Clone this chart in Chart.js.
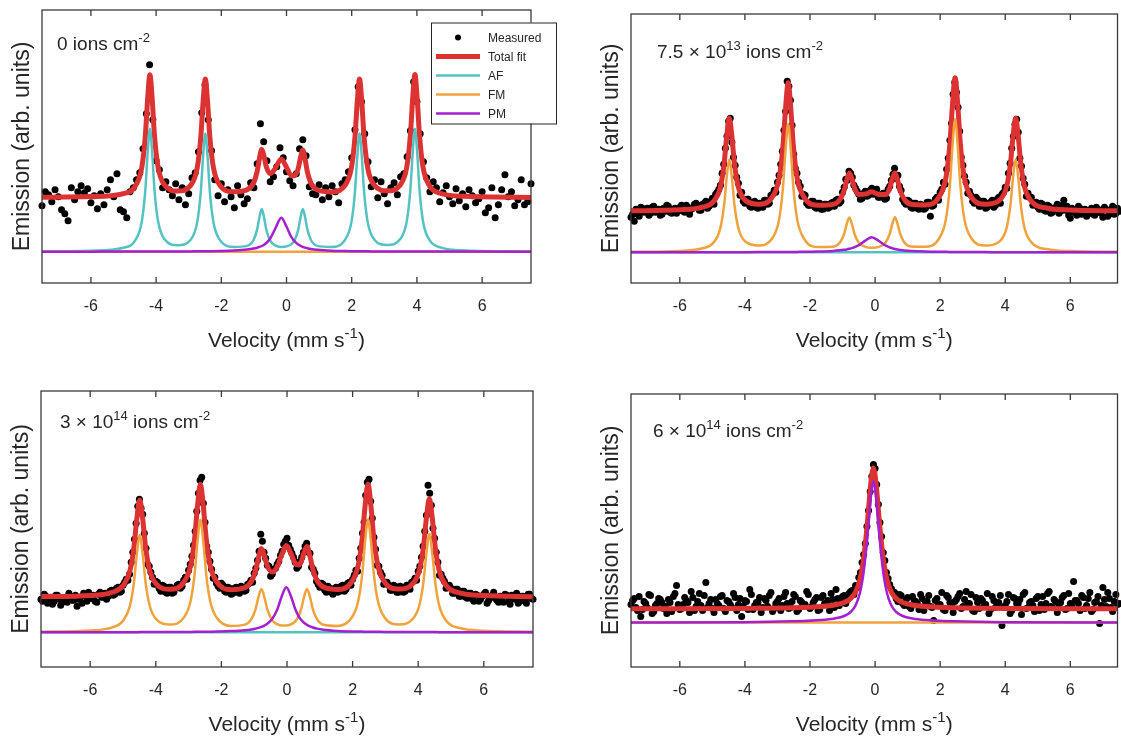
<!DOCTYPE html>
<html>
<head>
<meta charset="utf-8">
<script src="https://cdn.jsdelivr.net/npm/chart.js@4.4.1/dist/chart.umd.min.js"></script>
<style>
  body { margin: 0; background: #fff; width: 1121px; height: 740px; overflow: hidden; position: relative; }
  canvas { position: absolute; }
</style>
</head>
<body>
<canvas id="tl" width="575" height="370" style="left:0;top:0"></canvas>
<canvas id="tr" width="541" height="370" style="left:580px;top:0"></canvas>
<canvas id="bl" width="575" height="370" style="left:0;top:370px"></canvas>
<canvas id="br" width="541" height="370" style="left:580px;top:370px"></canvas>
<script>
// ---- data (velocity in mm/s, emission in arb. units) ----
const channels = [-7.5,-7.4,-7.3,-7.2,-7.1,-7.0,-6.9,-6.8,-6.7,-6.6,-6.5,-6.4,-6.3,-6.2,-6.1,-6.0,-5.9,-5.8,-5.7,-5.6,
  -5.5,-5.4,-5.3,-5.2,-5.1,-5.0,-4.9,-4.8,-4.7,-4.6,-4.5,-4.4,-4.3,-4.2,-4.1,-4.0,-3.9,-3.8,-3.7,-3.6,
  -3.5,-3.4,-3.3,-3.2,-3.1,-3.0,-2.9,-2.8,-2.7,-2.6,-2.5,-2.4,-2.3,-2.2,-2.1,-2.0,-1.9,-1.8,-1.7,-1.6,
  -1.5,-1.4,-1.3,-1.2,-1.1,-1.0,-0.9,-0.8,-0.7,-0.6,-0.5,-0.4,-0.3,-0.2,-0.1,0.0,0.1,0.2,0.3,0.4,
  0.5,0.6,0.7,0.8,0.9,1.0,1.1,1.2,1.3,1.4,1.5,1.6,1.7,1.8,1.9,2.0,2.1,2.2,2.3,2.4,
  2.5,2.6,2.7,2.8,2.9,3.0,3.1,3.2,3.3,3.4,3.5,3.6,3.7,3.8,3.9,4.0,4.1,4.2,4.3,4.4,
  4.5,4.6,4.7,4.8,4.9,5.0,5.1,5.2,5.3,5.4,5.5,5.6,5.7,5.8,5.9,6.0,6.1,6.2,6.3,6.4,
  6.5,6.6,6.7,6.8,6.9,7.0,7.1,7.2,7.3,7.4,7.5];
// in-between channels, used by the denser spectra
const halfChannels = [-7.45,-7.35,-7.25,-7.15,-7.05,-6.95,-6.85,-6.75,-6.65,-6.55,-6.45,-6.35,-6.25,-6.15,-6.05,-5.95,-5.85,-5.75,-5.65,-5.55,
  -5.45,-5.35,-5.25,-5.15,-5.05,-4.95,-4.85,-4.75,-4.65,-4.55,-4.45,-4.35,-4.25,-4.15,-4.05,-3.95,-3.85,-3.75,-3.65,-3.55,
  -3.45,-3.35,-3.25,-3.15,-3.05,-2.95,-2.85,-2.75,-2.65,-2.55,-2.45,-2.35,-2.25,-2.15,-2.05,-1.95,-1.85,-1.75,-1.65,-1.55,
  -1.45,-1.35,-1.25,-1.15,-1.05,-0.95,-0.85,-0.75,-0.65,-0.55,-0.45,-0.35,-0.25,-0.15,-0.05,0.05,0.15,0.25,0.35,0.45,
  0.55,0.65,0.75,0.85,0.95,1.05,1.15,1.25,1.35,1.45,1.55,1.65,1.75,1.85,1.95,2.05,2.15,2.25,2.35,2.45,
  2.55,2.65,2.75,2.85,2.95,3.05,3.15,3.25,3.35,3.45,3.55,3.65,3.75,3.85,3.95,4.05,4.15,4.25,4.35,4.45,
  4.55,4.65,4.75,4.85,4.95,5.05,5.15,5.25,5.35,5.45,5.55,5.65,5.75,5.85,5.95,6.05,6.15,6.25,6.35,6.45,
  6.55,6.65,6.75,6.85,6.95,7.05,7.15,7.25,7.35,7.45];
const xTicks = [-6, -4, -2, 0, 2, 4, 6];
const flatV = [-7.55, 7.55];

// panel 1: 0 ions cm-2
const p1Counts = [46,60,57,50,62,55,42,38,31,64, 52,60,66,59,63,49,56,43,58,47,
  62,72,55,78,42,40,34,60,64,72, 79,103,138,187,132,91,82,64,70,62,
  56,68,52,64,47,58,74,79,100,139, 167,132,101,72,56,68,50,62,55,44,
  66,57,48,53,69,64,88,128,110,91, 70,75,85,104,94,80,71,66,78,103,
  112,96,65,58,57,67,52,64,55,66, 60,49,68,72,80,94,122,165,150,118,
  90,65,72,54,70,58,48,64,69,57, 75,78,95,121,170,150,118,90,74,60,
  70,64,50,59,66,55,48,63,51,58, 45,62,56,49,53,60,39,44,64,34,
  47,62,77,55,60,46,52,72,47,50, 68];
const p1V = [-7.55,-6.0,-5.0,-4.64,-4.44,-4.33,-4.26,-4.19,-4.12,-4.05,-3.94,-3.74,-3.34,-2.94,-2.74,-2.63,-2.56,-2.49,-2.42,-2.35,
  -2.24,-2.04,-1.6,-1.21,-1.01,-0.9,-0.83,-0.76,-0.69,-0.62,-0.5,-0.35,-0.16,0.0,0.14,0.25,0.36,0.43,0.5,0.57,
  0.64,0.75,0.95,1.37,1.79,1.99,2.1,2.17,2.24,2.31,2.38,2.49,2.69,3.09,3.49,3.69,3.8,3.87,3.94,4.01,
  4.08,4.19,4.39,4.74,5.5,7.55];
const p1Fit = [54.4,55.1,58.1,65.5,84.0,116.0,152.5,177.0,152.8,116.2,84.6,66.6,60.7,66.3,83.7,114.1,149.1,172.7,149.2,114.1,
  83.8,66.3,59.9,61.9,68.8,80.3,93.3,102.4,95.5,84.9,78.2,83.0,92.8,84.5,76.5,75.9,83.3,94.2,101.7,92.7,
  79.8,68.5,61.7,59.8,66.2,83.8,114.3,149.5,172.8,149.4,114.4,84.0,66.6,60.9,66.8,84.8,116.4,152.9,177.2,152.7,
  116.0,84.2,65.6,58.2,55.4,54.3];
const p1AF = [0.35,1.0,4.0,11.4,29.9,61.8,98.4,122.9,98.6,62.0,30.4,12.4,6.5,12.0,29.3,59.7,94.7,118.2,94.8,59.6,
  29.2,11.6,4.7,5.8,11.7,22.3,34.5,42.7,34.5,22.2,11.0,6.3,4.8,5.3,7.3,11.6,22.1,34.3,42.8,34.6,
  22.3,11.7,5.8,4.7,11.6,29.3,59.8,95.0,118.4,95.0,60.0,29.6,12.3,6.7,12.6,30.6,62.2,98.7,123.0,98.5,
  61.9,30.0,11.5,4.1,1.3,0.3];
const p1PM = [0.05,0.07,0.1,0.12,0.13,0.14,0.14,0.14,0.15,0.16,0.17,0.19,0.24,0.32,0.37,0.4,0.43,0.45,0.48,0.51,
  0.56,0.69,1.15,2.1,3.1,4.0,4.75,5.7,7.0,8.7,13.2,22.7,34.0,25.2,15.2,10.3,7.2,5.9,4.9,4.1,
  3.5,2.75,1.9,1.03,0.64,0.53,0.5,0.48,0.43,0.4,0.38,0.35,0.3,0.23,0.2,0.18,0.17,0.16,0.16,0.15,
  0.14,0.13,0.12,0.1,0.08,0.04];
const p1FM = [0, 0];
const p1Label = [['0 ions cm', false], ['-2', true]];

// panel 2: 7.5 x 10^13 ions cm-2
const p2Counts = [35,31,38,45,40,44,39,46,42,37, 44,47,40,43,39,45,41,47,38,44,
  49,42,48,51,46,54,58,63,79,104, 131,110,87,69,60,49,53,45,51,44,
  47,52,48,57,62,70,88,122,171,152, 98,79,66,58,49,47,51,44,49,43,
  48,45,50,52,49,60,73,81,75,64, 58,54,61,57,64,60,55,58,53,63,
  72,84,77,62,50,52,45,49,44,48, 43,50,36,47,55,60,70,83,112,158,
  160,121,87,70,61,51,55,46,51,44, 49,52,47,55,58,65,79,104,128,120,
  86,68,59,55,50,45,49,42,47,39, 44,48,41,52,46,34,40,37,44,39,
  36,42,38,45,40,35,43,38,46,39, 41];
const p2Counts2 = [38,43,36,44,41,37,45,40,43,38, 41,46,39,44,42,47,40,45,43,48,
  47,42,49,44,51,48,60,67,88,116, 134,95,75,57,51,53,46,50,45,49,
  45,52,49,58,60,77,101,141,166,127, 84,70,56,57,47,51,45,49,43,48,
  44,49,46,53,51,65,72,79,67,61, 53,59,56,62,58,63,55,59,54,66,
  78,74,66,53,48,51,44,49,43,47, 44,50,46,53,52,63,68,94,129,170,
  145,95,76,59,57,49,53,46,51,45, 50,45,53,49,60,64,89,116,133,94,
  74,56,55,47,50,43,48,41,46,40, 45,39,47,42,37,44,40,46,38,43,
  40,44,37,43,39,45,36,42,38,44];
const p2V = [-7.55,-6.0,-5.3,-4.98,-4.76,-4.64,-4.56,-4.48,-4.4,-4.32,-4.2,-3.98,-3.575,-3.17,-2.95,-2.83,-2.75,-2.67,-2.59,-2.51,
  -2.39,-2.17,-1.73,-1.29,-1.07,-0.95,-0.87,-0.79,-0.71,-0.63,-0.51,-0.3,-0.1,0.11,0.33,0.45,0.53,0.61,0.69,0.77,
  0.89,1.11,1.535,1.96,2.18,2.3,2.38,2.46,2.54,2.62,2.74,2.96,3.39,3.82,4.04,4.16,4.24,4.32,4.4,4.48,
  4.6,4.82,5.3,6.0,7.55];
const p2Fit = [41.5,42.5,45.1,50.3,64.5,88,115.7,134.2,115.9,88.4,65.2,51.8,48.1,54.7,73.9,106,144.1,169.5,144.1,106,
  73.8,54.5,47,47.9,53.2,62,72.2,79.4,73.4,64.4,57.9,58.2,60.5,57.9,57.7,64.3,73.4,79.3,72.3,62,
  53.3,48,47.3,55,75,108.6,148.2,174.5,148.1,108.6,75.2,55.2,48,51.9,65.3,88.6,116,134.3,115.8,88.1,
  64.6,50.5,44.1,42.3,41.4];
const p2FM = [0.45,1.4,4.0,9.2,23.4,46.9,74.6,93.1,74.8,47.3,24.1,10.6,6.9,13.5,32.6,64.8,102.8,128.2,102.8,64.6,
  32.4,13.0,5.25,5.5,10.2,18.5,28.3,34.9,28.2,18.3,10.0,5.5,4.5,5.35,10.1,18.5,28.4,35.0,28.5,18.6,
  10.4,5.7,5.5,13.5,33.6,67.2,106.8,133.2,106.8,67.3,33.9,14.0,6.8,10.7,24.2,47.5,74.9,93.2,74.7,47.0,
  23.5,9.4,3.0,1.2,0.4];
const p2PM = [0.04,0.06,0.08,0.09,0.09,0.1,0.1,0.1,0.11,0.11,0.13,0.15,0.18,0.23,0.25,0.27,0.28,0.32,0.33,0.35,
  0.4,0.49,0.77,1.39,2.0,2.5,2.9,3.5,4.2,5.1,6.9,11.7,15,11.5,6.6,4.85,4.0,3.3,2.8,2.4,
  1.9,1.35,0.77,0.49,0.43,0.4,0.38,0.32,0.31,0.3,0.26,0.23,0.18,0.15,0.13,0.12,0.12,0.12,0.11,0.11,
  0.1,0.09,0.08,0.06,0.04];
const p2AF = [0, 0];
const p2Label = [['7.5 \u00d7 10', false], ['13', true], [' ions cm', false], ['-2', true]];

// panel 3: 3 x 10^14 ions cm-2
const p3Counts = [33,38,29,35,31,37,27,34,30,36, 32,26,35,39,31,34,37,30,40,35,
  33,41,37,44,40,47,53,58,80,109, 133,118,84,66,55,51,44,47,40,45,
  39,44,48,46,55,62,76,101,139,155, 110,80,63,55,46,49,41,45,38,44,
  40,46,41,48,52,59,72,98,80,67, 56,63,68,77,88,94,83,75,64,71,
  80,89,79,63,51,45,48,40,44,38, 45,41,47,43,50,53,62,74,99,137,
  153,114,83,66,57,50,47,42,46,40, 45,41,47,50,54,61,75,101,147,127,
  94,70,58,51,46,44,39,43,36,41, 34,39,31,37,33,38,29,35,40,32,
  36,30,37,28,34,39,31,36,29,38, 33];
const p3Counts2 = [31,36,34,28,37,33,30,35,39,32, 37,33,29,36,40,34,31,38,35,39,
  36,42,38,45,41,50,52,70,93,126, 124,99,68,60,48,50,41,46,39,45,
  40,47,44,52,53,68,87,121,152,129, 86,71,54,49,44,47,40,44,39,45,
  39,45,42,49,50,64,81,91,74,66, 58,64,71,81,91,87,79,70,66,75,
  86,80,65,59,48,49,42,46,40,44, 40,46,41,49,47,57,61,84,110,150,
  131,95,67,60,48,50,42,47,40,46, 40,47,43,51,52,66,86,117,139,104,
  80,57,54,44,47,39,43,36,41,35, 39,33,38,31,36,40,32,37,34,30,
  35,38,31,37,33,29,36,32,38,34];
const p3V = [-7.55,-6.0,-5.3,-4.99,-4.79,-4.67,-4.58,-4.49,-4.4,-4.31,-4.19,-3.99,-3.565,-3.14,-2.94,-2.82,-2.73,-2.64,-2.55,-2.46,
  -2.34,-2.14,-1.71,-1.28,-1.08,-0.96,-0.87,-0.78,-0.69,-0.6,-0.45,-0.3,-0.16,-0.02,0.12,0.26,0.36,0.43,0.52,0.61,
  0.7,0.79,0.91,1.11,1.54,1.97,2.17,2.29,2.38,2.47,2.56,2.65,2.77,2.97,3.405,3.84,4.04,4.16,4.25,4.34,
  4.43,4.52,4.64,4.84,5.3,6.0,7.55];
const p3Fit = [35.7,36.9,40.3,47,61.5,84.2,113.1,132.4,113.4,84.7,62.3,48.4,43.1,50.3,66.5,92.5,125.8,148.1,125.8,92.6,
  66.5,50.3,42.6,44.8,51.3,61.6,74.5,83.7,76.8,66.4,60.3,65.6,77.7,86.7,78.9,68.7,67.3,70.6,79.8,85.8,
  76.2,62.8,52.2,45.2,42.8,50.4,66.8,92.8,126,148.3,126,92.8,66.9,50.5,43.2,48.7,62.7,85.3,114.2,133.5,
  114,84.9,62,47.3,39.1,36.7,35.6];
const p3FM = [0.6,1.8,5.2,11.8,26.3,49,77.9,97.2,78.2,49.5,27.1,13.2,7.8,14.9,31.1,57.1,90.3,112.6,90.3,57,
  30.9,14.5,6.4,7.7,13.4,22.9,35.1,43.3,35.1,22.9,11.9,8.1,6.7,6.7,7.9,11.2,16.5,23,35.3,43.4,
  35.3,23,13.5,7.6,6.4,14.5,31,57.1,90.4,112.7,90.5,57.3,31.4,15.1,7.9,13.5,27.5,50.1,79,98.3,
  78.8,49.7,26.8,12.1,4.0,1.6,0.5];
const p3PM = [0.06,0.1,0.13,0.14,0.15,0.16,0.17,0.18,0.19,0.2,0.2,0.22,0.28,0.36,0.4,0.43,0.45,0.51,0.53,0.57,
  0.64,0.77,1.2,2.1,2.9,3.7,4.4,5.4,6.7,8.5,13.4,22.5,36,45,36,22.5,15.8,12.6,9.5,7.4,
  5.9,4.8,3.7,2.6,1.4,0.87,0.75,0.68,0.63,0.56,0.53,0.5,0.46,0.39,0.3,0.24,0.22,0.21,0.2,0.19,
  0.18,0.18,0.17,0.16,0.13,0.1,0.06];
const p3AF = [0, 0];
const p3Label = [['3 \u00d7 10', false], ['14', true], [' ions cm', false], ['-2', true]];

// panel 4: 6 x 10^14 ions cm-2
const p4Counts = [18,24,12,6,21,15,27,11,19,23, 14,9,20,26,37,13,18,22,10,25,
  16,29,12,40,19,14,23,17,27,11, 21,15,25,18,6,22,13,28,17,20,
  10,24,16,30,14,21,12,26,19,15, 28,11,22,17,31,14,20,25,13,27,
  18,12,23,33,17,26,19,29,32,37, 45,60,79,112,146,154,118,86,62,44,
  34,30,21,27,17,25,14,22,19,28, 12,21,16,2,24,18,13,27,20,10,
  23,29,16,31,19,12,25,14,22,18, 9,26,15,20,-3,17,28,12,24,19,
  8,30,15,21,11,26,18,13,29,16, 23,10,20,27,14,19,41,22,12,25,
  17,30,13,21,-1,35,16,24,11,28, 19];
const p4Counts2 = [22,15,26,13,19,28,9,17,24,20, 16,23,11,29,18,14,25,20,31,12,
  21,17,27,15,23,10,19,26,14,22, 18,29,12,24,16,21,33,13,20,25,
  15,22,27,11,19,24,17,30,14,21, 26,13,20,18,28,16,23,12,25,19,
  22,29,15,24,20,27,23,31,28,35, 50,68,96,131,158,138,100,70,50,38,
  31,24,28,19,23,16,26,21,13,24, 20,27,15,22,18,30,12,25,17,21,
  26,14,23,19,28,11,20,24,16,29, 13,22,18,27,15,21,9,25,19,23,
  28,14,20,17,24,12,26,19,31,15, 21,18,25,13,29,16,22,19,27,14,
  24,11,20,26,17,23,30,15,21,18];
const p4V = [-7.55,-4.05,-2.55,-1.65,-1.25,-0.95,-0.75,-0.6,-0.47,-0.37,-0.29,-0.21,-0.13,-0.05,
  0.03,0.11,0.19,0.27,0.37,0.5,0.65,0.85,1.15,1.55,2.45,3.95,7.55];
const p4Fit = [13.7,14.1,14.7,16,17.5,20,24,30.5,42.5,59.5,81.5,109.5,139.5,154.5,
  139.5,109.5,81.5,59.5,42.5,30.5,24,20,17.5,16,14.7,14.1,13.7];
const p4PM = [0,0.3,1.2,2.5,4,6.5,10.5,17,29,46,68,96,126,141,
  126,96,68,46,29,17,10.5,6.5,4,2.5,1.2,0.3,0];
const p4FM = [0, 0];
const p4Label = [['6 \u00d7 10', false], ['14', true], [' ions cm', false], ['-2', true]];

const legendLabels = ['Measured', 'Total fit', 'AF', 'FM', 'PM'];
const xTitle = [['Velocity (mm s', false], ['-1', true], [')', false]];
const yTitle = 'Emission (arb. units)';

// ---- styling ----
const RED = '#dc3232';
const CYAN = '#55c2c2';
const ORANGE = '#f0a23c';
const PURPLE = '#a51fd0';
const INK = '#262626';
const FONT = "'Liberation Sans', Arial, Helvetica, sans-serif";

function series(xs, ys) {
  return xs.map((x, i) => ({ x: x, y: ys[i] }));
}

function curve(label, xs, ys, color, width, order) {
  return {
    label: label, data: series(xs, ys), showLine: true,
    borderColor: color, backgroundColor: color, borderWidth: width,
    pointRadius: 0, pointHoverRadius: 0, cubicInterpolationMode: 'monotone',
    fill: false, order: order, borderJoinStyle: 'round', borderCapStyle: 'round'
  };
}

// text with superscript pieces, parts = [[text, isSup], ...]
function richText(ctx, parts, x, y, size, align) {
  const supSize = Math.round(size * 0.7);
  let total = 0;
  const widths = parts.map(([t, sup]) => {
    ctx.font = (sup ? supSize : size) + 'px ' + FONT;
    const w = ctx.measureText(t).width;
    total += w;
    return w;
  });
  let cx = align === 'center' ? x - total / 2 : x;
  ctx.textAlign = 'left';
  ctx.textBaseline = 'alphabetic';
  parts.forEach(([t, sup], i) => {
    ctx.font = (sup ? supSize : size) + 'px ' + FONT;
    ctx.fillText(t, cx, sup ? y - size * 0.42 : y);
    cx += widths[i];
  });
}

function drawLegend(ctx, a) {
  const left = a.right - 100, top = a.top + 12.5, w = 125, h = 101;
  ctx.fillStyle = '#fff';
  ctx.fillRect(left, top, w, h);
  ctx.strokeStyle = INK;
  ctx.lineWidth = 1;
  ctx.strokeRect(left + 0.5, top + 0.5, w, h);
  const colors = ['#000', RED, CYAN, ORANGE, PURPLE];
  const widths = [0, 5, 2.5, 2.5, 2.5];
  legendLabels.forEach((lab, i) => {
    const y = top + 15 + 19 * i;
    if (i === 0) {
      ctx.fillStyle = '#000';
      ctx.beginPath();
      ctx.arc(left + 27, y, 3, 0, Math.PI * 2);
      ctx.fill();
    } else {
      ctx.strokeStyle = colors[i];
      ctx.lineWidth = widths[i];
      ctx.beginPath();
      ctx.moveTo(left + 5, y);
      ctx.lineTo(left + 49, y);
      ctx.stroke();
    }
    ctx.fillStyle = INK;
    ctx.font = '12px ' + FONT;
    ctx.textAlign = 'left';
    ctx.textBaseline = 'middle';
    ctx.fillText(lab, left + 57, y + 1);
  });
}

function framePlugin(panel) {
  return {
    id: 'frame_' + panel.id,
    afterDraw(chart) {
      const ctx = chart.ctx, a = chart.chartArea, x = chart.scales.x;
      ctx.save();
      ctx.strokeStyle = '#3a3a3a';
      ctx.lineWidth = 1.3;
      ctx.strokeRect(a.left, a.top, a.right - a.left, a.bottom - a.top);
      ctx.beginPath();
      xTicks.forEach(v => {
        const px = x.getPixelForValue(v);
        ctx.moveTo(px, a.bottom); ctx.lineTo(px, a.bottom - 6);
        ctx.moveTo(px, a.top); ctx.lineTo(px, a.top + 6);
      });
      ctx.stroke();

      ctx.fillStyle = INK;
      ctx.font = '16px ' + FONT;
      ctx.textAlign = 'center';
      ctx.textBaseline = 'alphabetic';
      xTicks.forEach(v => ctx.fillText(String(v), x.getPixelForValue(v), a.bottom + 28));

      richText(ctx, xTitle, (a.left + a.right) / 2, a.bottom + 64, 21, 'center');

      ctx.save();
      ctx.translate(a.left - 19, (a.top + a.bottom) / 2);
      ctx.rotate(-Math.PI / 2);
      ctx.font = '23px ' + FONT;
      ctx.textAlign = 'center';
      ctx.textBaseline = 'middle';
      ctx.fillText(yTitle, 0, 0);
      ctx.restore();

      richText(ctx, panel.label, a.left + panel.labelAt[0], a.top + panel.labelAt[1], 19, 'left');

      if (panel.legend) drawLegend(ctx, a);
      ctx.restore();
    }
  };
}

const panels = [
  { id: 'tl', counts: p1Counts, counts2: null, fitV: p1V, fit: p1Fit,
    comps: [['AF', p1V, p1AF, CYAN], ['FM', flatV, p1FM, ORANGE], ['PM', p1V, p1PM, PURPLE]],
    xMax: 7.5, yMin: -31.3, yMax: 241.7, pad: { left: 42, right: 44, top: 10, bottom: 87 },
    label: p1Label, labelAt: [15, 40], legend: true },
  { id: 'tr', counts: p2Counts, counts2: p2Counts2, fitV: p2V, fit: p2Fit,
    comps: [['AF', flatV, p2AF, CYAN], ['FM', p2V, p2FM, ORANGE], ['PM', p2V, p2PM, PURPLE]],
    xMax: 7.45, yMin: -30.7, yMax: 238.3, pad: { left: 51, right: 1, top: 14, bottom: 87 },
    label: p2Label, labelAt: [26, 44], legend: false },
  { id: 'bl', counts: p3Counts, counts2: p3Counts2, fitV: p3V, fit: p3Fit,
    comps: [['AF', flatV, p3AF, CYAN], ['FM', p3V, p3FM, ORANGE], ['PM', p3V, p3PM, PURPLE]],
    xMax: 7.5, yMin: -34.7, yMax: 241.3, pad: { left: 41, right: 42, top: 21, bottom: 73 },
    label: p3Label, labelAt: [19, 37], legend: false },
  { id: 'br', counts: p4Counts, counts2: p4Counts2, fitV: p4V, fit: p4Fit,
    comps: [['FM', flatV, p4FM, ORANGE], ['PM', p4V, p4PM, PURPLE]],
    xMax: 7.45, yMin: -44.5, yMax: 228.5, pad: { left: 51, right: 1, top: 24, bottom: 73 },
    label: p4Label, labelAt: [22, 43], legend: false }
];

const compOrder = { AF: 3, FM: 2, PM: 1 };

panels.forEach(panel => {
  let measured = series(channels, panel.counts);
  if (panel.counts2) measured = measured.concat(series(halfChannels, panel.counts2));
  const datasets = [
    { label: 'Measured', data: measured, showLine: false,
      pointRadius: 3.5, pointHoverRadius: 3.5, pointBorderWidth: 0,
      backgroundColor: '#000', borderColor: '#000', order: 5, clip: 4 },
    curve('Total fit', panel.fitV, panel.fit, RED, 5, 4)
  ];
  panel.comps.forEach(([name, xs, ys, color]) => datasets.push(curve(name, xs, ys, color, 2.5, compOrder[name])));

  new Chart(document.getElementById(panel.id), {
    type: 'scatter',
    data: { datasets: datasets },
    options: {
      responsive: false,
      animation: false,
      devicePixelRatio: 1,
      events: [],
      layout: { padding: panel.pad },
      plugins: { legend: { display: false }, tooltip: { enabled: false } },
      scales: {
        x: { type: 'linear', min: -7.5, max: panel.xMax, display: false },
        y: { type: 'linear', min: panel.yMin, max: panel.yMax, display: false }
      }
    },
    plugins: [framePlugin(panel)]
  });
});
</script>
</body>
</html>
